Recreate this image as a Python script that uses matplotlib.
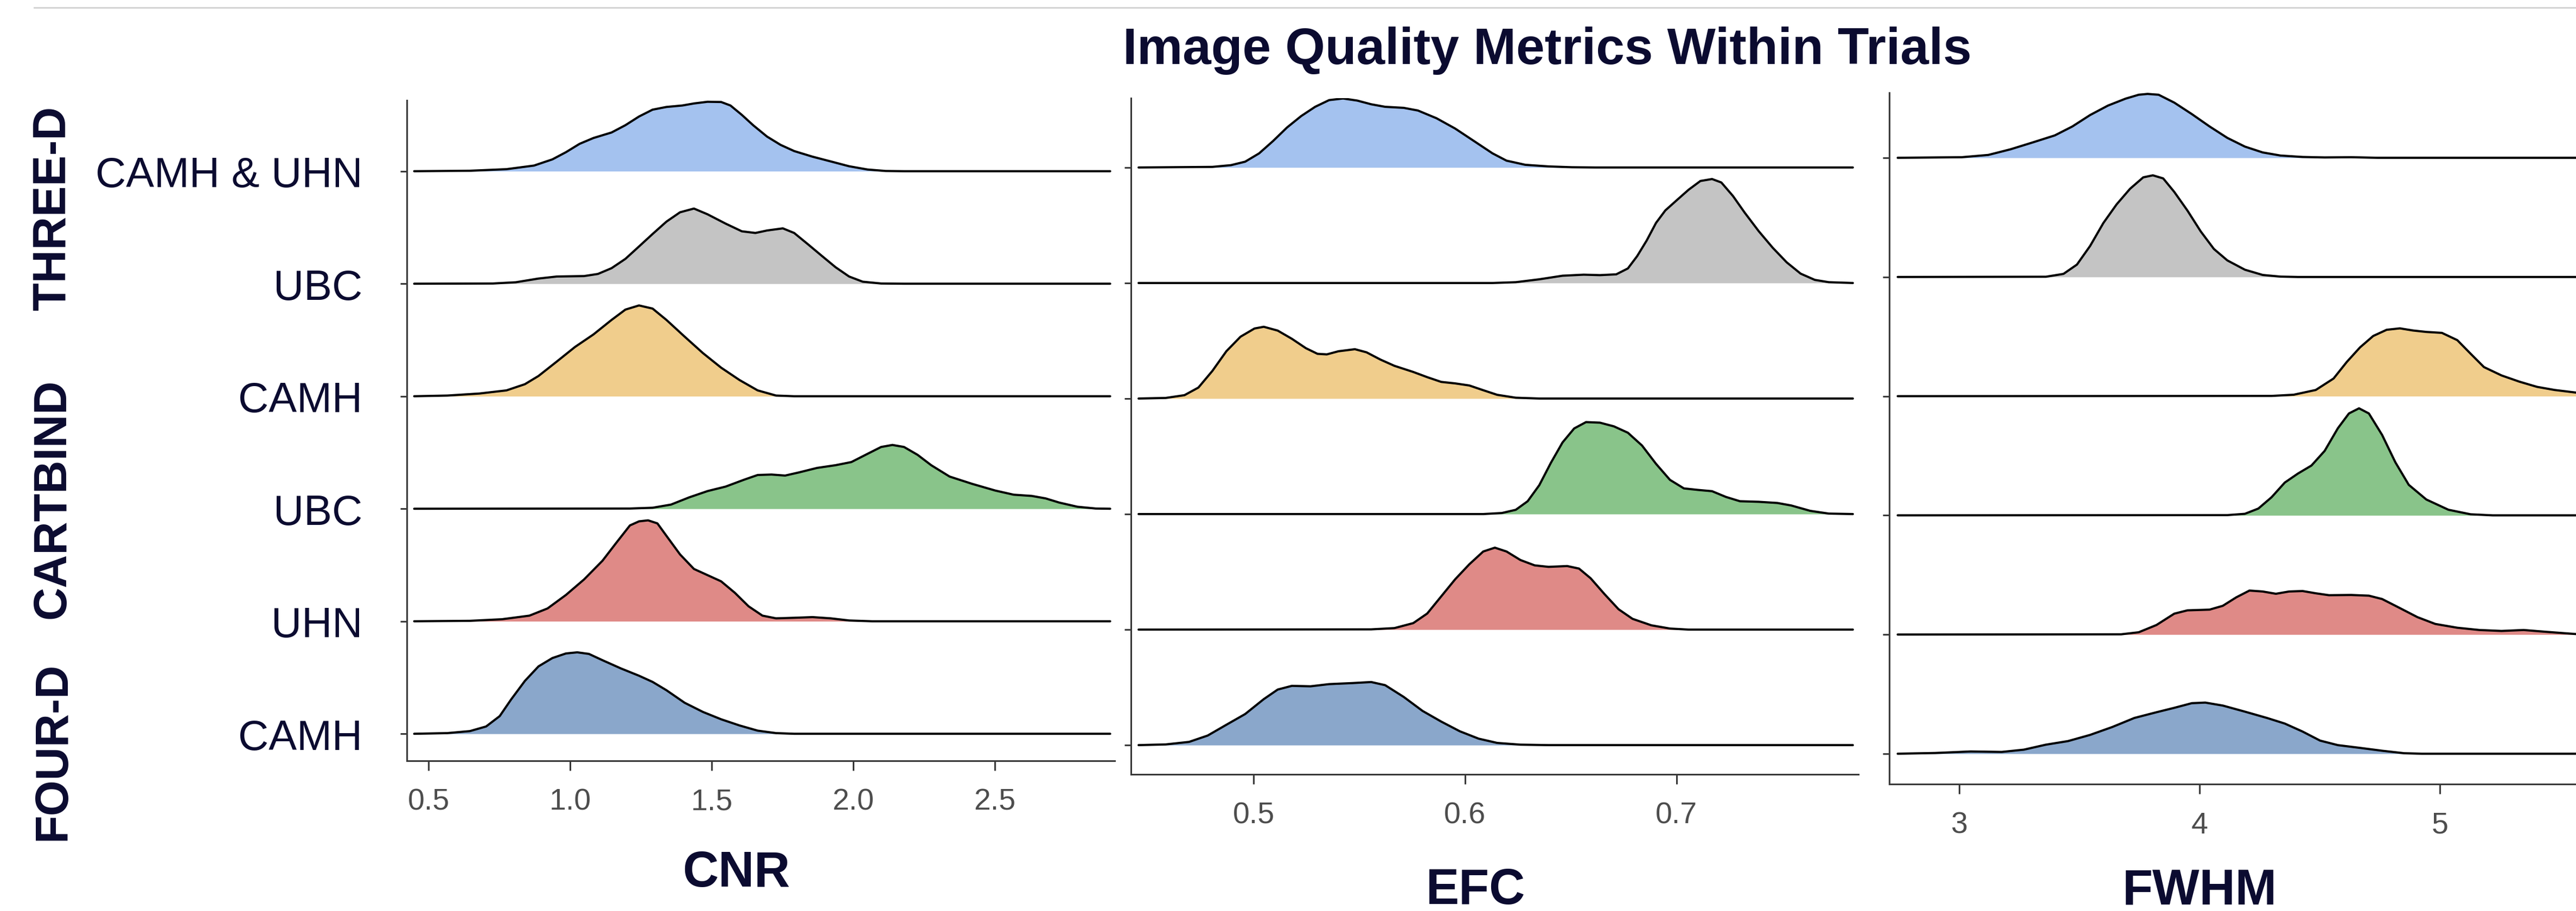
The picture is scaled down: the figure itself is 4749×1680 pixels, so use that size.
import matplotlib
matplotlib.use("Agg")
import matplotlib.pyplot as plt
from matplotlib.lines import Line2D

plt.rcParams['font.family'] = ['Liberation Sans', 'DejaVu Sans']

# ---------------- data ----------------
sites = ["CAMH & UHN", "UBC", "CAMH", "UBC", "UHN", "CAMH"]   # rows, top to bottom
groups = ["THREE-D", "CARTBIND", "FOUR-D"]
fill_colors = ["#a4c2ef", "#c4c4c4", "#f0cd8c", "#89c48a", "#df8a87", "#8aa7cb"]

metrics = ["CNR", "EFC", "FWHM"]
cnr_ticks = [0.5, 1.0, 1.5, 2.0, 2.5]
efc_ticks = [0.5, 0.6, 0.7]
fwhm_ticks = [3, 4, 5]
cnr_range = [0.449, 2.907]
efc_range = [0.4456, 0.7834]
fwhm_range = [2.744, 5.70]

# CNR ridge outlines (x, height relative to row spacing)
cnr_camh_uhn_x = [0.646, 0.775, 0.872, 0.937, 0.985, 1.033, 1.082, 1.146, 1.195, 1.243, 1.291, 1.340, 1.396, 1.437, 1.485, 1.533, 1.566, 1.606, 1.646, 1.695, 1.743, 1.791, 1.856, 1.920, 1.985, 2.050, 2.114, 2.179]
cnr_camh_uhn_h = [0.004, 0.018, 0.050, 0.105, 0.169, 0.243, 0.295, 0.344, 0.409, 0.486, 0.547, 0.571, 0.584, 0.602, 0.617, 0.615, 0.584, 0.501, 0.409, 0.308, 0.234, 0.179, 0.129, 0.087, 0.044, 0.015, 0.002, 0.0]
cnr_ubc3_x = [0.727, 0.808, 0.888, 0.953, 1.049, 1.098, 1.146, 1.195, 1.243, 1.291, 1.340, 1.388, 1.437, 1.485, 1.549, 1.606, 1.654, 1.695, 1.751, 1.791, 1.840, 1.888, 1.937, 1.985, 2.033, 2.098, 2.179]
cnr_ubc3_h = [0.002, 0.013, 0.046, 0.064, 0.068, 0.087, 0.138, 0.221, 0.331, 0.442, 0.552, 0.635, 0.668, 0.617, 0.534, 0.466, 0.451, 0.473, 0.492, 0.451, 0.350, 0.249, 0.147, 0.064, 0.018, 0.002, 0.0]
cnr_camh_c_x = [0.566, 0.679, 0.775, 0.840, 0.888, 0.953, 1.017, 1.082, 1.146, 1.195, 1.243, 1.291, 1.340, 1.404, 1.469, 1.533, 1.598, 1.662, 1.727, 1.791]
cnr_camh_c_h = [0.006, 0.024, 0.052, 0.107, 0.180, 0.309, 0.438, 0.549, 0.678, 0.770, 0.807, 0.779, 0.678, 0.530, 0.383, 0.254, 0.144, 0.052, 0.006, 0.0]
cnr_ubc_c_x = [1.211, 1.291, 1.356, 1.420, 1.485, 1.549, 1.614, 1.662, 1.711, 1.759, 1.808, 1.872, 1.937, 1.993, 2.050, 2.098, 2.138, 2.179, 2.227, 2.275, 2.340, 2.420, 2.501, 2.566, 2.630, 2.679, 2.727, 2.791, 2.856]
cnr_ubc_c_h = [0.002, 0.009, 0.037, 0.101, 0.157, 0.197, 0.258, 0.300, 0.304, 0.295, 0.323, 0.363, 0.387, 0.415, 0.488, 0.549, 0.567, 0.549, 0.479, 0.387, 0.286, 0.221, 0.162, 0.125, 0.114, 0.092, 0.055, 0.018, 0.002]
cnr_uhn_c_x = [0.646, 0.759, 0.856, 0.920, 0.985, 1.049, 1.114, 1.162, 1.211, 1.243, 1.275, 1.308, 1.340, 1.388, 1.437, 1.485, 1.533, 1.582, 1.630, 1.679, 1.727, 1.791, 1.856, 1.920, 1.985, 2.066]
cnr_uhn_c_h = [0.004, 0.018, 0.050, 0.114, 0.234, 0.372, 0.538, 0.695, 0.852, 0.888, 0.897, 0.870, 0.759, 0.594, 0.465, 0.410, 0.355, 0.252, 0.133, 0.050, 0.026, 0.031, 0.037, 0.026, 0.007, 0.0]
cnr_camh_f_x = [0.566, 0.646, 0.703, 0.751, 0.791, 0.840, 0.888, 0.937, 0.985, 1.025, 1.066, 1.114, 1.179, 1.243, 1.291, 1.340, 1.404, 1.469, 1.533, 1.598, 1.662, 1.727, 1.791]
cnr_camh_f_h = [0.006, 0.024, 0.065, 0.157, 0.304, 0.470, 0.599, 0.673, 0.714, 0.724, 0.710, 0.654, 0.581, 0.516, 0.461, 0.387, 0.276, 0.194, 0.129, 0.074, 0.028, 0.006, 0.0]

# EFC ridge outlines
efc_camh_uhn_x = [0.4805, 0.4893, 0.4960, 0.5026, 0.5092, 0.5158, 0.5225, 0.5291, 0.5357, 0.5423, 0.5490, 0.5556, 0.5622, 0.5710, 0.5777, 0.5865, 0.5953, 0.6042, 0.6130, 0.6196, 0.6285, 0.6395, 0.6505, 0.6616]
efc_camh_uhn_h = [0.005, 0.020, 0.050, 0.122, 0.229, 0.346, 0.445, 0.525, 0.583, 0.597, 0.579, 0.547, 0.525, 0.516, 0.493, 0.426, 0.337, 0.229, 0.122, 0.059, 0.023, 0.009, 0.002, 0.0]
efc_ubc3_x = [0.6130, 0.6240, 0.6351, 0.6461, 0.6561, 0.6638, 0.6715, 0.6770, 0.6814, 0.6859, 0.6903, 0.6947, 0.7002, 0.7057, 0.7113, 0.7168, 0.7212, 0.7267, 0.7322, 0.7389, 0.7455, 0.7521, 0.7587, 0.7654, 0.7720]
efc_ubc3_h = [0.0, 0.007, 0.032, 0.063, 0.072, 0.068, 0.075, 0.126, 0.233, 0.368, 0.520, 0.628, 0.718, 0.807, 0.883, 0.900, 0.870, 0.753, 0.610, 0.448, 0.305, 0.179, 0.081, 0.027, 0.007]
efc_camh_c_x = [0.4584, 0.4673, 0.4739, 0.4805, 0.4871, 0.4938, 0.5004, 0.5048, 0.5114, 0.5181, 0.5247, 0.5302, 0.5346, 0.5401, 0.5479, 0.5534, 0.5600, 0.5666, 0.5755, 0.5821, 0.5887, 0.5953, 0.6020, 0.6086, 0.6152, 0.6240, 0.6351]
efc_camh_c_h = [0.005, 0.029, 0.095, 0.239, 0.409, 0.535, 0.606, 0.621, 0.588, 0.517, 0.436, 0.387, 0.382, 0.409, 0.427, 0.400, 0.337, 0.283, 0.230, 0.185, 0.144, 0.131, 0.113, 0.072, 0.032, 0.007, 0.0]
efc_ubc_c_x = [0.6086, 0.6174, 0.6240, 0.6296, 0.6351, 0.6406, 0.6461, 0.6516, 0.6572, 0.6638, 0.6704, 0.6770, 0.6837, 0.6903, 0.6969, 0.7035, 0.7101, 0.7168, 0.7234, 0.7300, 0.7389, 0.7477, 0.7543, 0.7632, 0.7720]
efc_ubc_c_h = [0.0, 0.009, 0.037, 0.111, 0.250, 0.444, 0.620, 0.741, 0.796, 0.791, 0.759, 0.704, 0.593, 0.435, 0.296, 0.222, 0.209, 0.198, 0.148, 0.111, 0.106, 0.096, 0.074, 0.028, 0.004]
efc_uhn_c_x = [0.5556, 0.5666, 0.5755, 0.5821, 0.5887, 0.5953, 0.6020, 0.6086, 0.6141, 0.6196, 0.6262, 0.6329, 0.6395, 0.6483, 0.6539, 0.6594, 0.6660, 0.6726, 0.6792, 0.6881, 0.6969, 0.7057]
efc_uhn_c_h = [0.002, 0.013, 0.056, 0.139, 0.287, 0.435, 0.565, 0.676, 0.709, 0.676, 0.602, 0.556, 0.543, 0.550, 0.528, 0.444, 0.306, 0.176, 0.093, 0.037, 0.009, 0.0]
efc_camh_f_x = [0.4584, 0.4695, 0.4783, 0.4871, 0.4960, 0.5048, 0.5114, 0.5181, 0.5269, 0.5357, 0.5468, 0.5556, 0.5622, 0.5710, 0.5799, 0.5887, 0.5975, 0.6064, 0.6152, 0.6262, 0.6395]
efc_camh_f_h = [0.006, 0.028, 0.083, 0.176, 0.269, 0.398, 0.481, 0.513, 0.509, 0.528, 0.537, 0.546, 0.519, 0.417, 0.296, 0.204, 0.120, 0.056, 0.019, 0.004, 0.0]

# FWHM ridge outlines
fwhm_camh_uhn_x = [3.011, 3.121, 3.213, 3.306, 3.398, 3.471, 3.545, 3.619, 3.692, 3.747, 3.784, 3.830, 3.895, 3.968, 4.042, 4.116, 4.189, 4.263, 4.337, 4.429, 4.521, 4.631, 4.742]
fwhm_camh_uhn_h = [0.005, 0.024, 0.071, 0.129, 0.188, 0.263, 0.359, 0.438, 0.496, 0.529, 0.536, 0.529, 0.463, 0.367, 0.263, 0.167, 0.094, 0.045, 0.019, 0.007, 0.003, 0.005, 0.0]
fwhm_ubc3_x = [3.361, 3.434, 3.490, 3.545, 3.600, 3.655, 3.711, 3.766, 3.806, 3.849, 3.895, 3.950, 4.005, 4.060, 4.116, 4.189, 4.263, 4.337, 4.410]
fwhm_ubc3_h = [0.002, 0.026, 0.104, 0.261, 0.453, 0.609, 0.740, 0.836, 0.853, 0.827, 0.714, 0.557, 0.383, 0.235, 0.139, 0.061, 0.017, 0.003, 0.0]
fwhm_camh_c_x = [4.300, 4.392, 4.484, 4.558, 4.613, 4.668, 4.723, 4.779, 4.834, 4.889, 4.944, 5.009, 5.073, 5.128, 5.184, 5.257, 5.331, 5.405, 5.478, 5.567, 5.650]
fwhm_camh_c_h = [0.002, 0.012, 0.052, 0.148, 0.287, 0.409, 0.505, 0.557, 0.569, 0.551, 0.539, 0.531, 0.470, 0.357, 0.244, 0.174, 0.122, 0.078, 0.052, 0.030, 0.015]
fwhm_ubc_c_x = [4.116, 4.189, 4.245, 4.300, 4.355, 4.410, 4.466, 4.521, 4.576, 4.622, 4.664, 4.705, 4.760, 4.815, 4.871, 4.944, 5.036, 5.128, 5.220]
fwhm_ubc_c_h = [0.002, 0.013, 0.057, 0.152, 0.275, 0.351, 0.418, 0.541, 0.731, 0.855, 0.898, 0.855, 0.675, 0.446, 0.256, 0.133, 0.047, 0.009, 0.0]
fwhm_uhn_c_x = [3.674, 3.747, 3.821, 3.895, 3.950, 4.042, 4.097, 4.153, 4.208, 4.263, 4.318, 4.373, 4.429, 4.484, 4.539, 4.631, 4.705, 4.760, 4.834, 4.907, 4.981, 5.073, 5.165, 5.257, 5.349, 5.441, 5.567, 5.650]
fwhm_uhn_c_h = [0.002, 0.019, 0.080, 0.175, 0.203, 0.209, 0.241, 0.312, 0.369, 0.361, 0.342, 0.361, 0.365, 0.346, 0.330, 0.332, 0.326, 0.298, 0.222, 0.146, 0.089, 0.057, 0.038, 0.030, 0.038, 0.023, 0.004, 0.0]
fwhm_camh_f_x = [2.900, 3.048, 3.177, 3.269, 3.361, 3.453, 3.545, 3.637, 3.729, 3.821, 3.895, 3.968, 4.024, 4.097, 4.189, 4.281, 4.355, 4.429, 4.502, 4.576, 4.668, 4.760, 4.852, 4.926]
fwhm_camh_f_h = [0.006, 0.019, 0.015, 0.034, 0.076, 0.106, 0.158, 0.224, 0.300, 0.348, 0.385, 0.424, 0.429, 0.404, 0.353, 0.300, 0.253, 0.186, 0.110, 0.072, 0.049, 0.025, 0.004, 0.0]

cnr_curves = [(cnr_camh_uhn_x, cnr_camh_uhn_h), (cnr_ubc3_x, cnr_ubc3_h), (cnr_camh_c_x, cnr_camh_c_h),
              (cnr_ubc_c_x, cnr_ubc_c_h), (cnr_uhn_c_x, cnr_uhn_c_h), (cnr_camh_f_x, cnr_camh_f_h)]
efc_curves = [(efc_camh_uhn_x, efc_camh_uhn_h), (efc_ubc3_x, efc_ubc3_h), (efc_camh_c_x, efc_camh_c_h),
              (efc_ubc_c_x, efc_ubc_c_h), (efc_uhn_c_x, efc_uhn_c_h), (efc_camh_f_x, efc_camh_f_h)]
fwhm_curves = [(fwhm_camh_uhn_x, fwhm_camh_uhn_h), (fwhm_ubc3_x, fwhm_ubc3_h), (fwhm_camh_c_x, fwhm_camh_c_h),
               (fwhm_ubc_c_x, fwhm_ubc_c_h), (fwhm_uhn_c_x, fwhm_uhn_c_h), (fwhm_camh_f_x, fwhm_camh_f_h)]

# ---------------- layout ----------------
W, H = 4749, 1681
NAVY = "#0b0b30"
AXC = "#3a3a3a"
fig = plt.figure(figsize=(W / 100, H / 100), dpi=100)


def rect(l, r, t, b):
    return [l / W, 1 - b / H, (r - l) / W, (b - t) / H]


panels = [
    dict(rect=rect(750, 2055, 186, 1404), xlim=(0.423, 2.923), ylim=(-0.24, 5.63),
         curves=cnr_curves, rng=cnr_range, ticks=cnr_ticks, fmt="{:.1f}", labels=True),
    dict(rect=rect(2085, 3426, 182, 1429), xlim=(0.442, 0.786), ylim=(-0.253, 5.60),
         curves=efc_curves, rng=efc_range, ticks=efc_ticks, fmt="{:.1f}", labels=False),
    dict(rect=rect(3483, 4749, 172, 1447), xlim=(2.709, 5.567), ylim=(-0.255, 5.546),
         curves=fwhm_curves, rng=fwhm_range, ticks=fwhm_ticks, fmt="{:d}", labels=False),
]

n = len(sites)
for p in panels:
    ax = fig.add_axes(p["rect"])
    for i, (xs, hs) in enumerate(p["curves"]):
        base = n - 1 - i
        x = [p["rng"][0]] + list(xs) + [p["rng"][1]]
        y = [base] + [base + h for h in hs] + [base]
        ax.fill_between(x, base, y, color=fill_colors[i], lw=0, zorder=2 + 2 * i)
        ax.plot(x, y, color="black", lw=2.9, solid_joinstyle="round",
                solid_capstyle="round", zorder=3 + 2 * i)
    ax.set_xlim(*p["xlim"])
    ax.set_ylim(*p["ylim"])
    for s in ["top", "right"]:
        ax.spines[s].set_visible(False)
    for s in ["left", "bottom"]:
        ax.spines[s].set_color(AXC)
        ax.spines[s].set_linewidth(2.2)
    ax.set_xticks(p["ticks"])
    ax.set_xticklabels([p["fmt"].format(t) for t in p["ticks"]])
    ax.tick_params(axis="x", length=13, width=2.2, color=AXC, labelsize=40,
                   labelcolor="#4d4d4d", pad=23)
    ax.set_yticks(list(range(n - 1, -1, -1)))
    if p["labels"]:
        ax.set_yticklabels(sites)
    else:
        ax.set_yticklabels([])
    ax.tick_params(axis="y", length=9, width=2.2, color=AXC, labelsize=56,
                   labelcolor=NAVY, pad=50)
    ax.patch.set_alpha(0)

# metric labels
fig.text(1357 / W, 1 - 1611 / H, metrics[0], ha="center", va="center", fontsize=66,
         fontweight="bold", color=NAVY)
fig.text(2720 / W, 1 - 1643 / H, metrics[1], ha="center", va="center", fontsize=66,
         fontweight="bold", color=NAVY)
fig.text(4055 / W, 1 - 1644 / H, metrics[2], ha="center", va="center", fontsize=66,
         fontweight="bold", color=NAVY)

# group labels
for g, yc in zip(groups, [384, 920, 1385]):
    fig.text(98 / W, 1 - yc / H, g, rotation=90, ha="center", va="center",
             fontsize=61, fontweight="bold", color=NAVY)

# title
fig.text(2852 / W, 1 - 118 / H, "Image Quality Metrics Within Trials", ha="center",
         va="baseline", fontsize=68, fontweight="bold", color=NAVY)

# top rule
fig.add_artist(Line2D([63 / W, 1.0], [1 - 15 / H, 1 - 15 / H], transform=fig.transFigure,
                      color="#d2d2d2", lw=2.0))

fig.savefig("out.png", dpi=100, facecolor="white")
